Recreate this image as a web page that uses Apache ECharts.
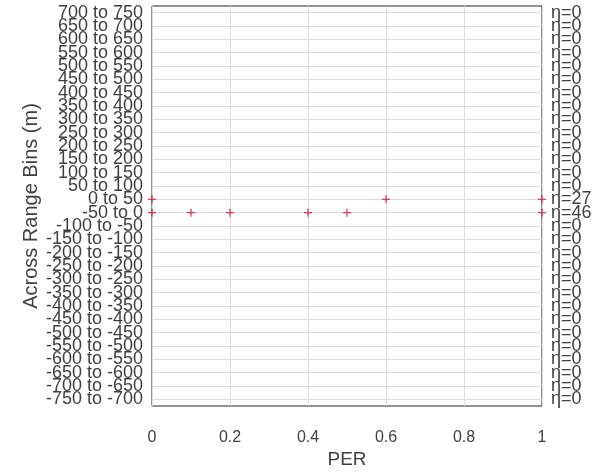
<!DOCTYPE html>
<html><head><meta charset="utf-8">
<script src="https://cdn.jsdelivr.net/npm/echarts@6/dist/echarts.min.js"></script>
<style>html,body{margin:0;padding:0;background:#fff}#c{width:605px;height:474px}</style>
</head><body><div id="c"></div>
<script>
var binLabels = ["-750 to -700","-700 to -650","-650 to -600","-600 to -550","-550 to -500","-500 to -450","-450 to -400","-400 to -350","-350 to -300","-300 to -250","-250 to -200","-200 to -150","-150 to -100","-100 to -50","-50 to 0","0 to 50","50 to 100","100 to 150","150 to 200","200 to 250","250 to 300","300 to 350","350 to 400","400 to 450","450 to 500","500 to 550","550 to 600","600 to 650","650 to 700","700 to 750"];
var binCounts = [0,0,0,0,0,0,0,0,0,0,0,0,0,0,46,27,0,0,0,0,0,0,0,0,0,0,0,0,0,0];
var perRowNeg = [0, 0.1, 0.2, 0.4, 0.5, 1];   // "-50 to 0"
var perRowPos = [0, 0.6, 1];                  // "0 to 50"
var xTicks = [0, 0.2, 0.4, 0.6, 0.8, 1];

var pts = perRowNeg.map(function(v){return [v, "-50 to 0"];})
  .concat(perRowPos.map(function(v){return [v, "0 to 50"];}));
var rightLabels = binCounts.map(function(n){return "\u03b7=" + n;});

var chart = echarts.init(document.getElementById('c'));
var txt = '#404040';
chart.setOption({
  animation: false,
  grid: {left: 152, right: 63, top: 6, bottom: 68, show: true, borderColor: '#262626', borderWidth: 1, backgroundColor: '#fff'},
  xAxis: {
    type: 'value', min: 0, max: 1, interval: 0.2,
    axisLine: {show: false},
    axisTick: {show: false},
    axisLabel: {color: txt, fontFamily: 'Liberation Sans', fontSize: 16, margin: 24},
    splitLine: {show: true, lineStyle: {color: '#dcdcdc', width: 1}},
    name: 'PER', nameLocation: 'middle', nameGap: 44, nameMoveOverlap: false,
    nameTextStyle: {color: txt, fontFamily: 'Liberation Sans', fontSize: 19}
  },
  yAxis: [{
    type: 'category', data: binLabels, boundaryGap: true,
    axisLine: {show: false},
    axisTick: {show: true, inside: true, alignWithLabel: true, length: 5, lineStyle: {color: '#262626'}},
    axisLabel: {color: txt, fontFamily: 'Liberation Sans', fontSize: 18, margin: 9, interval: 0, lineHeight: 13},
    splitLine: {show: false},
    name: 'Across Range Bins (m)', nameLocation: 'middle', nameGap: 111, nameMoveOverlap: false,
    nameTextStyle: {color: txt, fontFamily: 'Liberation Sans', fontSize: 20}
  }, {
    type: 'category', data: rightLabels, boundaryGap: true, position: 'right',
    axisLine: {show: false},
    axisTick: {show: true, inside: true, alignWithLabel: true, length: 5, lineStyle: {color: '#262626'}},
    axisLabel: {color: txt, fontFamily: 'Liberation Sans', fontSize: 18, margin: 9, interval: 0, lineHeight: 13},
    splitLine: {show: false}
  }],
  series: [{
    type: 'scatter', yAxisIndex: 0, silent: true, clip: false,
    data: [],
    markLine: {
      silent: true, symbol: 'none', label: {show: false}, animation: false,
      lineStyle: {color: '#dcdcdc', width: 1, type: 'solid'},
      data: binLabels.map(function(c){return {yAxis: c};})
    }
  }, {
    type: 'scatter', yAxisIndex: 0, clip: false, z: 5,
    symbol: 'path://M-1,-6 L1,-6 L1,-1 L6,-1 L6,1 L1,1 L1,6 L-1,6 L-1,1 L-6,1 L-6,-1 L-1,-1Z',
    symbolSize: 8,
    itemStyle: {color: '#d4103a'},
    data: pts
  }]
});
</script></body></html>
